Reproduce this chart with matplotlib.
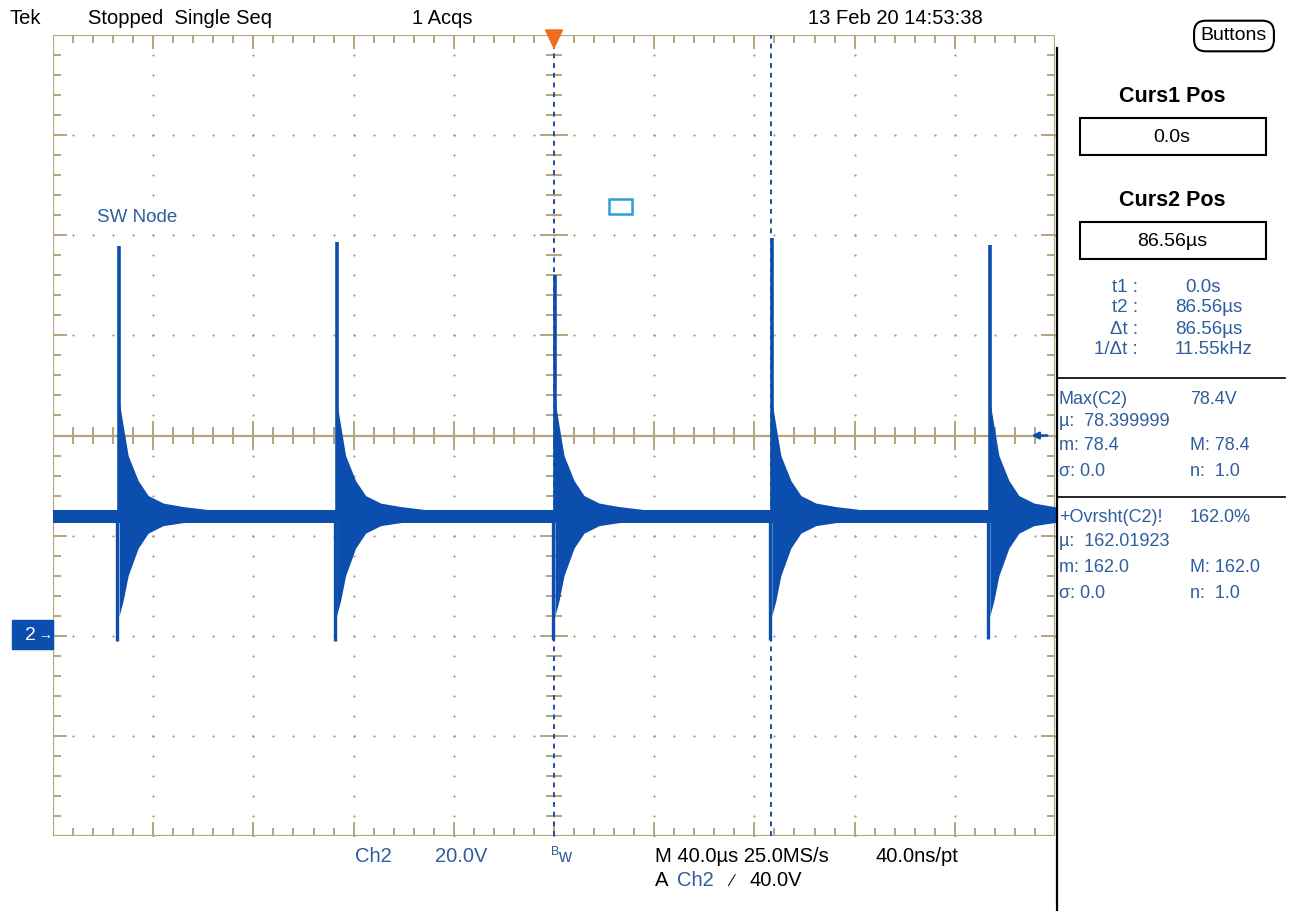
import numpy as np
import matplotlib
matplotlib.use("Agg")
import matplotlib.pyplot as plt
from matplotlib.patches import Rectangle, Polygon

# --- data (time in us, voltage in V) ---
spike_t = [-174.0, -87.2, 0.0, 86.56, 173.6]
spike_peak = [77.8, 78.6, 72.0, 79.4, 78.0]
spike_trough = [-1.0, -1.0, -0.8, -0.8, -0.6]
# ringing envelope after each switching edge
env_dt = [0.4, 2.0, 4.0, 8.0, 12.0, 18.0, 26.0, 36.0]
env_hi = [47.0, 42.0, 36.0, 31.0, 28.0, 26.5, 25.8, 25.2]
env_lo = [4.0, 7.0, 12.0, 17.5, 20.5, 22.0, 22.6, 22.8]
base_lo, base_hi = 22.6, 25.2
cursors = [0.0, 86.56]
trig_level = 40.0

W, H = 1293, 911
L, R, T, B = 53, 1055, 35, 836
BLUE = "#0b4eae"
TXTBLUE = "#2f5d9e"
TAN = "#b3a67d"
NARROW = ["Liberation Sans Narrow", "Liberation Sans", "DejaVu Sans"]
REG = ["Liberation Sans", "DejaVu Sans"]

fig = plt.figure(figsize=(W / 100, H / 100), dpi=100)
fig.patch.set_facecolor("white")
ax = fig.add_axes([L / W, 1 - B / H, (R - L) / W, (B - T) / H])
ax.set_xlim(-200, 200)
ax.set_ylim(-40, 120)
ax.axis("off")


def ftext(x, y, s, **kw):
    kw.setdefault("va", "center")
    fig.text(x / W, 1 - y / H, s, **kw)


# graticule: dots on division lines
xd = np.arange(-200, 201, 40)
yd = np.arange(-40, 121, 20)
xm = np.arange(-200, 201, 8)
ym = np.arange(-40, 121, 4)
for x in xd[1:-1]:
    ax.scatter(np.full(len(ym), x), ym, s=2.5, c="#9a9a9a", lw=0, zorder=1)
for y in yd[1:-1]:
    ax.scatter(xm, np.full(len(xm), y), s=2.5, c="#9a9a9a", lw=0, zorder=1)

# border + ticks
ax.add_patch(Rectangle((-200, -40), 400, 160, fill=False, ec=TAN, lw=1.6, zorder=2))
dx_min, dx_maj = 2.8, 5.2   # 7px / 13px in us
dy_min, dy_maj = 1.4, 2.6   # in V
for x in xm[1:-1]:
    major = (x % 40) == 0
    h = dy_maj if major else dy_min
    ax.plot([x, x], [120, 120 - h], color=TAN, lw=1.4, zorder=2)
    ax.plot([x, x], [-40, -40 + h], color=TAN, lw=1.4, zorder=2)
    ax.plot([x, x], [trig_level - h, trig_level + h], color=TAN, lw=1.4, zorder=2)
for y in ym[1:-1]:
    major = ((y + 40) % 20) == 0
    w = dx_maj if major else dx_min
    ax.plot([-200, -200 + w], [y, y], color=TAN, lw=1.4, zorder=2)
    ax.plot([200, 200 - w], [y, y], color=TAN, lw=1.4, zorder=2)
    ax.plot([-w, w], [y, y], color=TAN, lw=1.4, zorder=2)
ax.plot([-200, 200], [trig_level, trig_level], color=TAN, lw=1.6, zorder=2)

# cursors
for c in cursors:
    ax.plot([c, c], [-40, 120], color="#1d4f9c", lw=1.4, ls=(0, (2.5, 2.5)), zorder=3)

# trace
ax.fill_between([-200, 200], [base_lo, base_lo], [base_hi, base_hi], color=BLUE, lw=0, zorder=4)
for ts, pk, tr in zip(spike_t, spike_peak, spike_trough):
    t = ts + np.array(env_dt)
    ax.fill_between(t, env_lo, env_hi, color=BLUE, lw=0, zorder=4)
    ax.plot([ts + 0.5, ts + 0.5], [base_lo, pk], color=BLUE, lw=2.6, zorder=4,
            solid_capstyle="butt")
    ax.plot([ts - 0.4, ts - 0.4], [tr, base_hi], color=BLUE, lw=2.4, zorder=4,
            solid_capstyle="butt")

# trigger position / level markers
ax.add_patch(Polygon([[-3.4, 121], [3.4, 121], [0, 117.4]], closed=True,
                     color="#f26b21", clip_on=False, zorder=6))
ax.annotate("", xy=(189.5, trig_level), xytext=(198, trig_level),
            arrowprops=dict(arrowstyle="-|>", color=BLUE, lw=1.8, mutation_scale=10),
            zorder=6)
ax.add_patch(Rectangle((22.0, 84.2), 9.0, 3.0, fill=False, ec="#2aa0d4", lw=1.8, zorder=5))

# channel 2 ground marker
fig.add_artist(Rectangle((12 / W, 1 - 649 / H), 41 / W, 29 / H, transform=fig.transFigure,
                         color=BLUE))
ftext(30, 635, "2", color="white", fontsize=14, family=NARROW, ha="center")
ftext(45, 635, "\u2192", color="white", fontsize=10, family=REG, ha="center",
      fontweight="bold")

ftext(97, 218, "SW Node", color=TXTBLUE, fontsize=13.5, family=NARROW)

# top status line
ftext(10, 18, "Tek", fontsize=14.5, family=NARROW)
ftext(88, 18, "Stopped  Single Seq", fontsize=14.5, family=NARROW)
ftext(412, 18, "1 Acqs", fontsize=14.5, family=NARROW)
ftext(808, 18, "13 Feb 20 14:53:38", fontsize=14.5, family=NARROW)
ftext(1234, 36, "Buttons", fontsize=14, family=NARROW, ha="center",
      bbox=dict(boxstyle="round,pad=0.35,rounding_size=0.6", fc="white", ec="black", lw=1.5))

# bottom readout
ftext(355, 857, "Ch2", color=TXTBLUE, fontsize=14.5, family=NARROW)
ftext(435, 857, "20.0V", color=TXTBLUE, fontsize=14.5, family=NARROW)
ftext(551, 852, "B", color=TXTBLUE, fontsize=9, family=NARROW)
ftext(558, 858, "w", color=TXTBLUE, fontsize=13, family=NARROW)
ftext(655, 857, "M 40.0\u00b5s 25.0MS/s", fontsize=14.5, family=NARROW)
ftext(875, 857, "40.0ns/pt", fontsize=14.5, family=NARROW)
ftext(655, 880, "A", fontsize=14.5, family=NARROW)
ftext(677, 880, "Ch2", color=TXTBLUE, fontsize=14.5, family=NARROW)
ftext(730, 881, "\u2215", fontsize=12, family=REG)
ftext(750, 880, "40.0V", fontsize=14.5, family=NARROW)

# right side panel
fig.add_artist(plt.Line2D([1057 / W, 1057 / W], [1 - 48 / H, 0], transform=fig.transFigure,
                          color="black", lw=1.6))
for yy in (378, 497):
    fig.add_artist(plt.Line2D([1058 / W, 1285 / W], [1 - yy / H, 1 - yy / H],
                              transform=fig.transFigure, color="black", lw=1.2))
ftext(1172, 97, "Curs1 Pos", fontsize=15.5, family=REG, fontweight="bold", ha="center")
ftext(1172, 200, "Curs2 Pos", fontsize=15.5, family=REG, fontweight="bold", ha="center")
for y0 in (118, 222):
    fig.add_artist(Rectangle((1080 / W, 1 - (y0 + 37) / H), 186 / W, 37 / H,
                             transform=fig.transFigure, fill=False, ec="black", lw=1.5))
ftext(1172, 137, "0.0s", fontsize=14, family=NARROW, ha="center")
ftext(1172, 241, "86.56\u00b5s", fontsize=14, family=NARROW, ha="center")

rows = [("t1 :", "0.0s", 1185), ("t2 :", "86.56\u00b5s", 1175),
        ("\u0394t :", "86.56\u00b5s", 1175), ("1/\u0394t :", "11.55kHz", 1175)]
for i, (a, b, xb) in enumerate(rows):
    y = 287 + i * 21
    ftext(1138, y, a, color=TXTBLUE, fontsize=13.5, family=NARROW, ha="right")
    ftext(xb, y, b, color=TXTBLUE, fontsize=13.5, family=NARROW)

meas = [(400, "Max(C2)", "78.4V"), (422, "\u00b5:  78.399999", ""),
        (446, "m: 78.4", "M: 78.4"), (472, "\u03c3: 0.0", "n:  1.0"),
        (518, "+Ovrsht(C2)!", "162.0%"), (542, "\u00b5:  162.01923", ""),
        (568, "m: 162.0", "M: 162.0"), (593, "\u03c3: 0.0", "n:  1.0")]
for y, a, b in meas:
    ftext(1059, y, a, color=TXTBLUE, fontsize=13, family=REG)
    if b:
        ftext(1190, y, b, color=TXTBLUE, fontsize=13, family=REG)

fig.savefig("out.png", dpi=100, facecolor="white")
